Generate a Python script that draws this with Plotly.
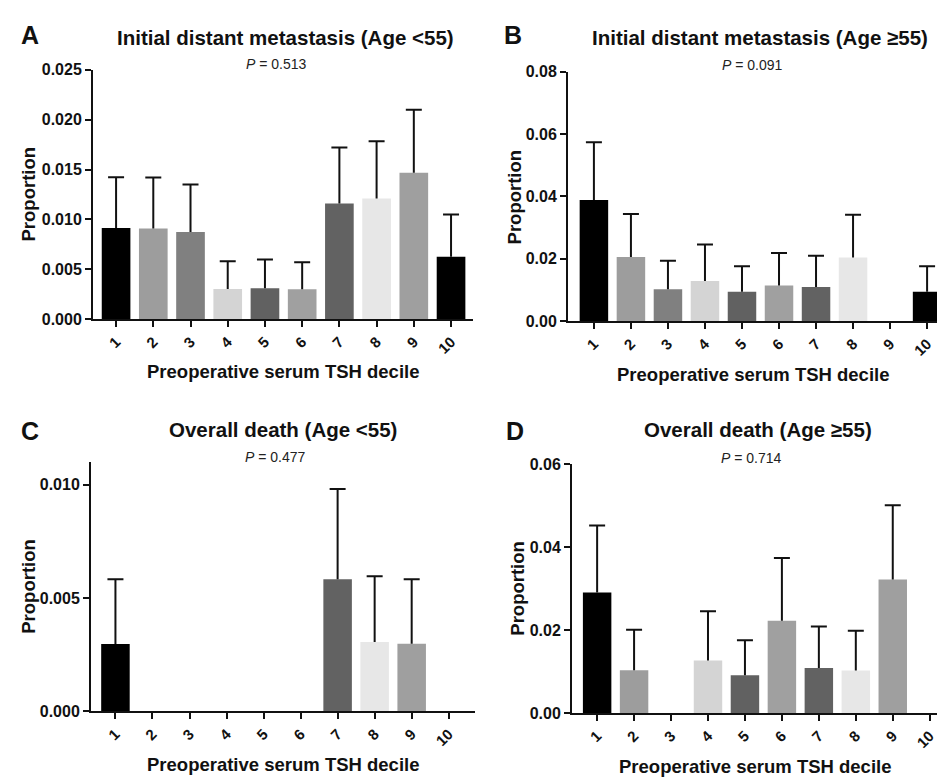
import plotly.graph_objects as go

W, H = 945, 777
FONT = "Liberation Sans, Arial, Helvetica, sans-serif"

deciles = [1, 2, 3, 4, 5, 6, 7, 8, 9, 10]
tick_labels = ["1", "2", "3", "4", "5", "6", "7", "8", "9", "10"]
bar_colors = ["#000000", "#9d9d9d", "#808080", "#d4d4d4", "#616161",
              "#a0a0a0", "#626262", "#e7e7e7", "#9f9f9f", "#000000"]

# Panel A: Initial distant metastasis (Age <55)
a_mean = [0.00915, 0.0091, 0.00873, 0.00304, 0.0031, 0.0030, 0.0116, 0.0121, 0.01467, 0.00627]
a_upper = [0.01422, 0.0142, 0.0135, 0.00582, 0.00598, 0.0057, 0.0172, 0.01784, 0.0210, 0.0105]
# Panel B: Initial distant metastasis (Age >=55)
b_mean = [0.0389, 0.0206, 0.0102, 0.0129, 0.0094, 0.01145, 0.0110, 0.0204, 0.0, 0.0094]
b_upper = [0.0574, 0.0344, 0.0194, 0.0246, 0.0176, 0.0219, 0.0210, 0.0341, 0.0, 0.0176]
# Panel C: Overall death (Age <55)
c_mean = [0.00297, 0.0, 0.0, 0.0, 0.0, 0.0, 0.00583, 0.00306, 0.00298, 0.0]
c_upper = [0.00583, 0.0, 0.0, 0.0, 0.0, 0.0, 0.00981, 0.00596, 0.00583, 0.0]
# Panel D: Overall death (Age >=55)
d_mean = [0.0291, 0.0104, 0.0, 0.0127, 0.0092, 0.0223, 0.0109, 0.0103, 0.0322, 0.0]
d_upper = [0.0452, 0.0201, 0.0, 0.0246, 0.0176, 0.0374, 0.0209, 0.0199, 0.0501, 0.0]

titles = ["Initial distant metastasis (Age <55)", "Initial distant metastasis (Age ≥55)",
          "Overall death (Age <55)", "Overall death (Age ≥55)"]
p_values = ["0.513", "0.091", "0.477", "0.714"]
letters = ["A", "B", "C", "D"]

panels = [
    dict(mean=a_mean, upper=a_upper, px=(85, 465, 55, 310), xr=[0.38, 10.59], yr=[0, 0.025],
         yt=[0, 0.005, 0.010, 0.015, 0.020, 0.025], fmt=".3f",
         title_xy=(277, 22), p_xy=(268, 49), letter_xy=(11, 19), ytitle_x=21, xtitle_y=363),
    dict(mean=b_mean, upper=b_upper, px=(560, 945, 57, 312), xr=[0.30, 10.70], yr=[0, 0.08],
         yt=[0, 0.02, 0.04, 0.06, 0.08], fmt=".2f",
         title_xy=(752, 22), p_xy=(744, 50), letter_xy=(494, 19), ytitle_x=506, xtitle_y=367),
    dict(mean=c_mean, upper=c_upper, px=(83, 467, 456, 711), xr=[0.34, 10.71], yr=[0, 0.0110],
         yt=[0, 0.005, 0.010], fmt=".3f",
         title_xy=(275, 423), p_xy=(267, 451), letter_xy=(11, 424), ytitle_x=21, xtitle_y=765),
    dict(mean=d_mean, upper=d_upper, px=(564, 945, 458, 713), xr=[0.32, 10.63], yr=[0, 0.06],
         yt=[0, 0.02, 0.04, 0.06], fmt=".2f",
         title_xy=(750, 423), p_xy=(743, 452), letter_xy=(496, 424), ytitle_x=510, xtitle_y=767),
]

fig = go.Figure()
annotations = []
layout = {}
ERR_COLOR = "#111111"

for i, p in enumerate(panels):
    n = "" if i == 0 else str(i + 1)
    xa, ya = "x" + n, "y" + n
    fig.add_trace(go.Bar(
        x=deciles, y=p["mean"], width=0.77,
        marker=dict(color=bar_colors, line=dict(width=0)),
        xaxis=xa, yaxis=ya, showlegend=False, hoverinfo="x+y",
    ))
    # upper-only error stems (no caps), anchored at bar tops
    stem_y = [m if m > 0 else None for m in p["mean"]]
    stem_e = [(u - m) if m > 0 else None for m, u in zip(p["mean"], p["upper"])]
    fig.add_trace(go.Scatter(
        x=deciles, y=stem_y, mode="markers", marker=dict(size=1, opacity=0),
        error_y=dict(type="data", symmetric=False, array=stem_e,
                     arrayminus=[0 if m > 0 else None for m in p["mean"]],
                     color=ERR_COLOR, thickness=2, width=0),
        xaxis=xa, yaxis=ya, showlegend=False, hoverinfo="skip",
    ))
    # caps at the upper limit only
    cap_y = [u if m > 0 else None for m, u in zip(p["mean"], p["upper"])]
    fig.add_trace(go.Scatter(
        x=deciles, y=cap_y, mode="markers", marker=dict(size=1, opacity=0),
        error_y=dict(type="data", symmetric=True,
                     array=[0 if m > 0 else None for m in p["mean"]],
                     color=ERR_COLOR, thickness=2, width=8),
        xaxis=xa, yaxis=ya, showlegend=False, hoverinfo="skip",
    ))
    x0, x1, y0, y1 = p["px"]
    layout["xaxis" + n] = dict(
        domain=[x0 / W, x1 / W], range=p["xr"], anchor=ya,
        tickmode="array", tickvals=deciles, ticktext=tick_labels, tickangle=-45,
        ticks="outside", ticklen=6, tickwidth=2, tickcolor="#111111",
        showline=True, linewidth=2, linecolor="#111111", showgrid=False, zeroline=False,
        tickfont=dict(family=FONT, size=15, color="#111111", weight="bold"),
        fixedrange=True,
    )
    layout["yaxis" + n] = dict(
        domain=[1 - y1 / H, 1 - y0 / H], range=p["yr"], anchor=xa,
        tickmode="array", tickvals=p["yt"], tickformat=p["fmt"],
        ticks="outside", ticklen=6, tickwidth=2, tickcolor="#111111",
        showline=True, linewidth=2, linecolor="#111111", showgrid=False, zeroline=False,
        tickfont=dict(family=FONT, size=16, color="#111111", weight="bold"),
        fixedrange=True,
    )
    tx, ty = p["title_xy"]
    annotations.append(dict(text="<b>" + titles[i] + "</b>", x=tx / W, y=1 - ty / H,
                            xref="paper", yref="paper", xanchor="center", yanchor="middle",
                            showarrow=False, font=dict(family=FONT, size=20.5, color="#111111")))
    px_, py_ = p["p_xy"]
    annotations.append(dict(text="<i>P</i> = " + p_values[i], x=px_ / W, y=1 - py_ / H,
                            xref="paper", yref="paper", xanchor="center", yanchor="middle",
                            showarrow=False, font=dict(family=FONT, size=14, color="#222222")))
    lx, ly = p["letter_xy"]
    annotations.append(dict(text="<b>" + letters[i] + "</b>", x=lx / W, y=1 - ly / H,
                            xref="paper", yref="paper", xanchor="left", yanchor="middle",
                            showarrow=False, font=dict(family=FONT, size=25, color="#111111")))
    annotations.append(dict(text="<b>Proportion</b>", x=p["ytitle_x"] / W,
                            y=1 - ((y0 + y1) / 2) / H, textangle=-90,
                            xref="paper", yref="paper", xanchor="center", yanchor="middle",
                            showarrow=False, font=dict(family=FONT, size=18.5, color="#111111")))
    annotations.append(dict(text="<b>Preoperative serum TSH decile</b>", x=((x0 + min(x1, 930)) / 2) / W,
                            y=1 - p["xtitle_y"] / H,
                            xref="paper", yref="paper", xanchor="center", yanchor="middle",
                            showarrow=False, font=dict(family=FONT, size=18.5, color="#111111")))

fig.update_layout(
    width=W, height=H, margin=dict(l=0, r=0, t=0, b=0),
    paper_bgcolor="white", plot_bgcolor="white",
    annotations=annotations, **layout,
)

fig.write_html("out.html")
